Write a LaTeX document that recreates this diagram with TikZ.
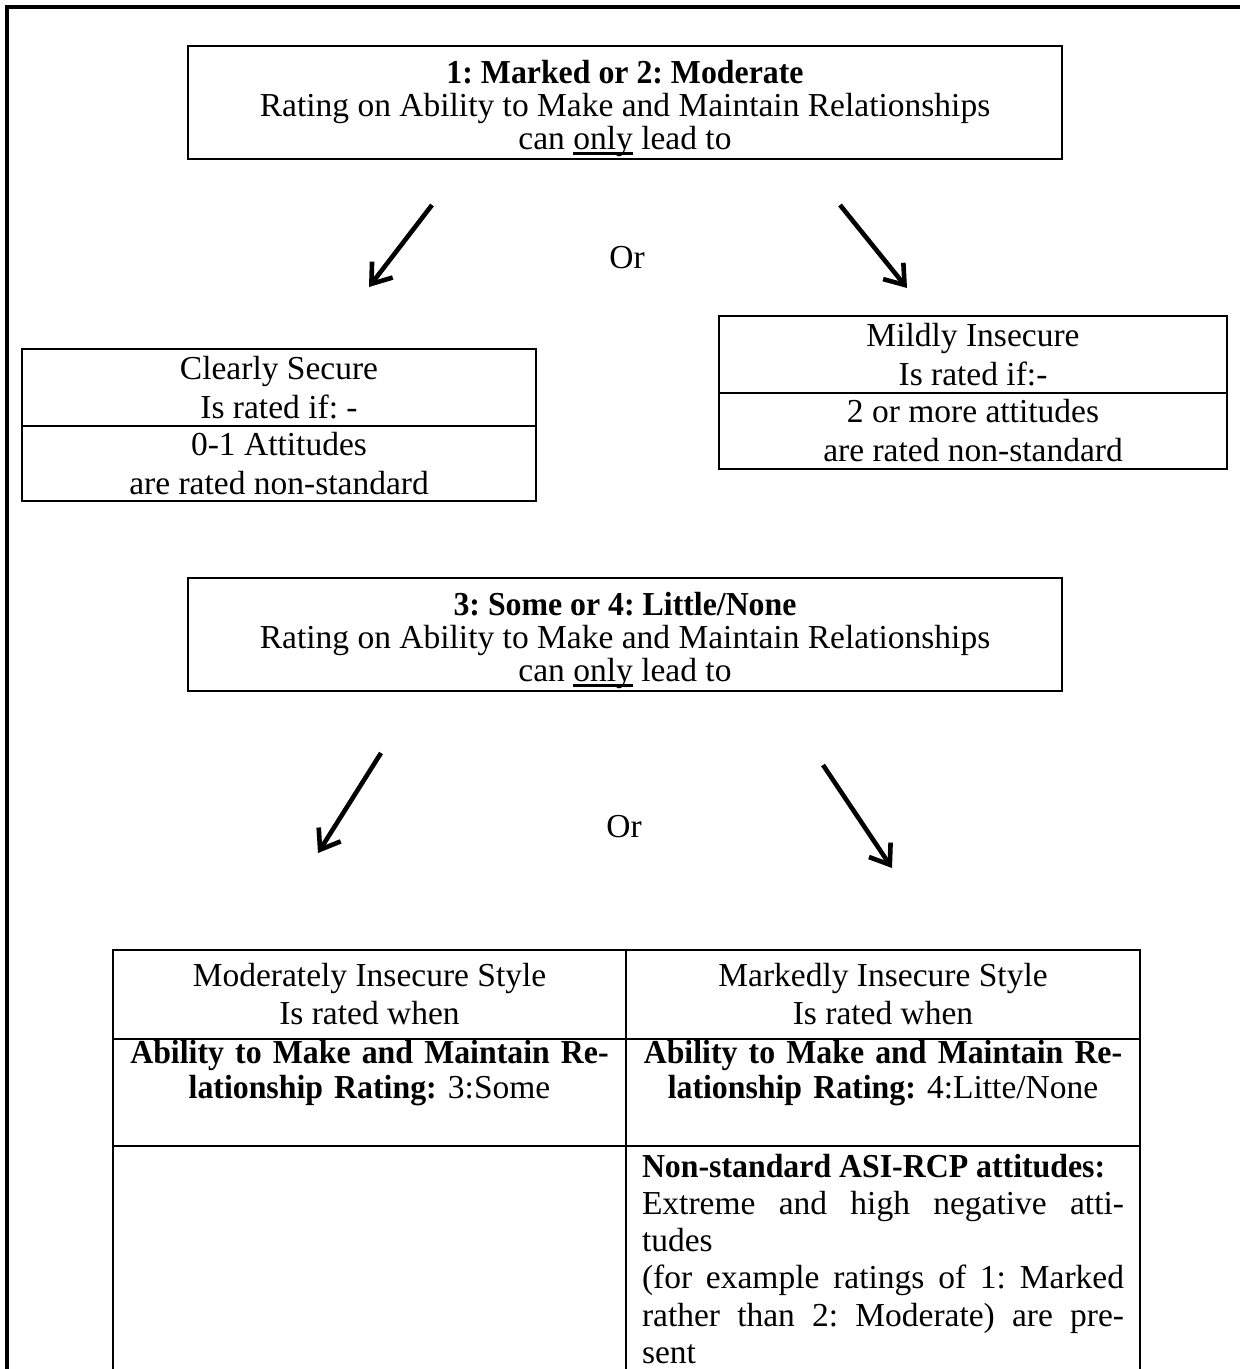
\documentclass[tikz,border=0pt]{standalone}
\usepackage{fontspec}
\setmainfont{Liberation Serif}[BoldFeatures={FakeStretch=0.95}]
\usetikzlibrary{arrows.meta,positioning}
\frenchspacing
\newcommand{\undl}[1]{\setbox0\hbox{#1}\rlap{\rule[-2.4pt]{\wd0}{1.1pt}}\box0\relax}

\begin{document}
\begin{tikzpicture}[x=0.5pt,y=-0.5pt,>={Straight Barb[length=9pt,width=13pt]},node distance=0pt,
    font=\fontsize{16.75}{19}\selectfont]
  \tikzstyle{box}=[draw,line width=1.3pt,align=center,inner sep=0pt,outer sep=0pt]
  \tikzstyle{bigbox}=[box,minimum width=437pt,minimum height=56.5pt,font=\fontsize{16.75}{16.5}\selectfont]
  \tikzstyle{half}=[box,font=\fontsize{16.75}{19.5}\selectfont]
  \tikzstyle{cell}=[box,line width=1.3pt]
  \tikzstyle{arr}=[line width=2.3pt,->]
  \clip (0,0) rectangle (1240,1369);
  \draw[line width=1.6pt] (1240,7) -- (7,7) -- (7,1369);
  % moderate ratings
  \node[bigbox] (marked) at (625,102.5)
    {\rule{0pt}{18pt}\textbf{1: Marked or 2: Moderate}\\Rating on Ability to Make and Maintain Relationships\\can \undl{only} lead to};
  \node (or1) at (627,258) {Or};
  \coordinate (m1) at (432,205); \coordinate (m1e) at (369,287);
  \coordinate (m2) at (840,205); \coordinate (m2e) at (907,288);
  \draw[arr] (m1) -- (m1e);
  \draw[arr] (m2) -- (m2e);
  \node[half,minimum width=257pt,minimum height=38.5pt] (secure) at (279,387.5) {Clearly Secure\\Is rated if: -};
  \node[half,minimum width=257pt,minimum height=37.5pt,below=of secure] (secatt) {0-1 Attitudes\\are rated non-standard};
  \node[half,minimum width=254pt,minimum height=38.5pt] (mildly) at (973,354.5) {Mildly Insecure\\Is rated if:-};
  \node[half,minimum width=254pt,minimum height=38pt,below=of mildly] (milatt) {2 or more attitudes\\are rated non-standard};
  % low ratings
  \node[bigbox] (little) at (625,634.5)
    {\rule{0pt}{18pt}\textbf{3: Some or 4: Little/None}\\Rating on Ability to Make and Maintain Relationships\\can \undl{only} lead to};
  \node (or2) at (624,827) {Or};
  \coordinate (l1) at (381,753); \coordinate (l1e) at (318,853);
  \coordinate (l2) at (823,765); \coordinate (l2e) at (892,868);
  \draw[arr] (l1) -- (l1e);
  \draw[arr] (l2) -- (l2e);
  % table
  \node[cell,minimum width=256.5pt,minimum height=44.5pt,anchor=north west] (hdL) at (113,950)
    {Moderately Insecure Style\\Is rated when};
  \node[cell,minimum width=257pt,minimum height=44.5pt,right=of hdL] (hdR)
    {Markedly Insecure Style\\Is rated when};
  \node[cell,minimum width=256.5pt,minimum height=53.5pt,text width=254pt,below=of hdL,
      font=\fontsize{16.75}{17.5}\selectfont] (rtL)
    {\textbf{Ability to Make and Maintain Re-}\\\textbf{lationship Rating:} 3:Some\\\strut};
  \node[cell,minimum width=257pt,minimum height=53.5pt,text width=254pt,below=of hdR,
      font=\fontsize{16.75}{17.5}\selectfont] (rtR)
    {\textbf{Ability to Make and Maintain Re-}\\\textbf{lationship Rating:} 4:Litte/None\\\strut};
  \node[cell,minimum width=256.5pt,minimum height=130pt,below=of rtL] (nsL) {};
  \node[cell,inner xsep=8pt,inner ysep=4pt,below=of rtR,font=\fontsize{16.75}{18.6}\selectfont] (nsR)
    {\begin{minipage}[t][120pt][t]{241pt}
      \textbf{Non-standard ASI-RCP attitudes:}\\
      Extreme and high negative atti-\linebreak tudes\\
      (for example ratings of 1: Marked\linebreak rather than 2: Moderate) are pre-\linebreak sent
    \end{minipage}};
\end{tikzpicture}
\end{document}
